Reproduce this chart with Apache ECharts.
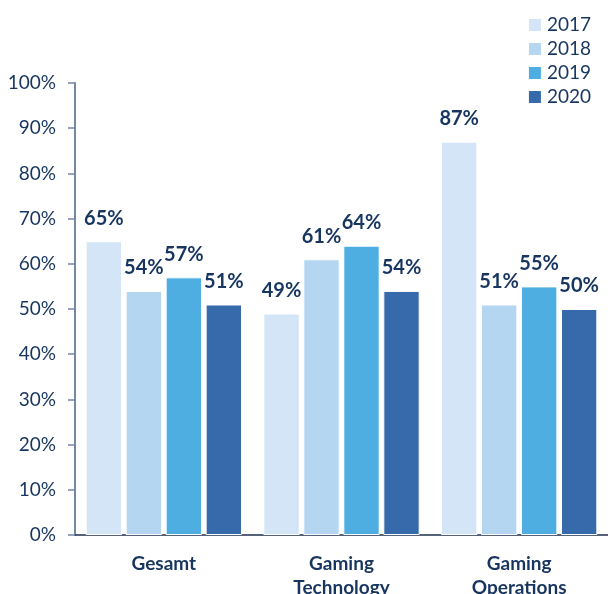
<!DOCTYPE html>
<html><head><meta charset="utf-8">
<script src="https://cdn.jsdelivr.net/npm/echarts@6/dist/echarts.min.js"></script>
<style>html,body{margin:0;padding:0;background:#fff}#c{width:608px;height:594px}</style>
</head><body><div id="c"></div>
<script>
const categories = ['Gesamt', 'Gaming\nTechnology', 'Gaming\nOperations'];
const years = ['2017', '2018', '2019', '2020'];
const v2017 = [65, 49, 87];
const v2018 = [54, 61, 51];
const v2019 = [57, 64, 55];
const v2020 = [51, 54, 50];
const yTicks = [0, 10, 20, 30, 40, 50, 60, 70, 80, 90, 100];

const colors = ['#d3e5f6', '#b4d6f1', '#4eaee2', '#376aab'];
const txt = '#17355f';
const font = 'Lato, sans-serif';
const values = [v2017, v2018, v2019, v2020];

const chart = echarts.init(document.getElementById('c'));
chart.setOption({
  animation: false,
  color: colors,
  legend: {
    orient: 'vertical', right: 12, top: 10, itemWidth: 14, itemHeight: 14, itemGap: 4,
    icon: 'rect',
    textStyle: { color: txt, fontSize: 19, lineHeight: 20, fontFamily: font },
    data: years
  },
  grid: { left: 75, right: 0, top: 83, bottom: 59, outerBoundsMode: 'none', containLabel: false },
  xAxis: {
    type: 'category', data: categories,
    axisLine: { lineStyle: { color: '#1e2f4d', width: 1.5 } },
    axisTick: { show: false },
    axisLabel: { color: txt, fontSize: 19, fontWeight: 'bold', fontFamily: font, margin: 17, lineHeight: 24 }
  },
  yAxis: {
    type: 'value', min: 0, max: 100, interval: 10,
    axisLine: { show: true, lineStyle: { color: '#7587a3', width: 2 } },
    axisTick: { show: true, length: 7, lineStyle: { color: '#7587a3', width: 1.5 } },
    splitLine: { show: false },
    axisLabel: { color: txt, fontSize: 19, fontFamily: font, margin: 19, formatter: v => v + '%' }
  },
  series: years.map((y, i) => ({
    name: y, type: 'bar', data: values[i],
    barGap: '10%', barCategoryGap: '12%',
    itemStyle: { borderColor: '#ffffff', borderWidth: 1 },
    label: {
      show: true, position: 'top', distance: 13, formatter: p => p.value + '%',
      color: txt, fontSize: 20, fontWeight: 'bold', fontFamily: font
    }
  }))
});
</script></body></html>
